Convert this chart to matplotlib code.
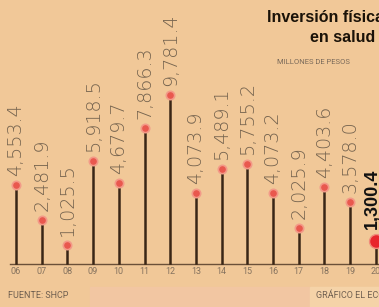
import matplotlib
matplotlib.use("Agg")
import matplotlib.pyplot as plt
import numpy as np

years = ["06", "07", "08", "09", "10", "11", "12", "13", "14", "15", "16", "17", "18", "19", "20"]
values = [4553.4, 2481.9, 1025.5, 5918.5, 4679.7, 7866.3, 9781.4, 4073.9, 5489.1,
          5755.2, 4073.2, 2025.9, 4403.6, 3578.0, 1300.4]
labels = ["4,553.4", "2,481.9", "1,025.5", "5,918.5", "4,679.7", "7,866.3", "9,781.4",
          "4,073.9", "5,489.1", "5,755.2", "4,073.2", "2,025.9", "4,403.6", "3,578.0", "1,300.4"]

W, H = 379, 307
bg = "#F1C898"
stem_c = "#3a2616"
dot_c = "#E9584E"
txt_c = "#76644f"
thin = ["Roboto", "DejaVu Sans"]

fig = plt.figure(figsize=(W / 100, H / 100), dpi=100, facecolor=bg)
ax = fig.add_axes([0, 0, 1, 1])
ax.set_facecolor(bg)
ax.axis("off")

# pixel mapping: x index -> px, value -> px from top
x0, dx = 16, 25.7
base, scale = 263, 168 / 9781.4
ax.set_xlim(-x0 / dx, (W - x0) / dx)
ax.set_ylim(-(H - base) / scale, base / scale)
upp = 1 / scale  # value units per pixel

x = np.arange(len(years))

# lighter strips at the bottom
ax.axhspan(-(H - base) * upp, -(287 - base) * upp, xmin=90 / W, xmax=310 / W,
           color="#F2C6A2", zorder=0)
ax.axhspan(-(H - base) * upp, -(287 - base) * upp, xmin=310 / W, xmax=1,
           color="#F5D3A8", zorder=0)

# baseline
ax.plot([-6 / dx, x[-1] + 1], [-1 * upp, -1 * upp], color="#6b5038", lw=1.0, zorder=2)

for i, v in enumerate(values):
    last = i == len(values) - 1
    ax.plot([x[i], x[i]], [0, v], color=stem_c, lw=1.8, zorder=3)
    if last:
        ax.plot(x[i], v, "o", ms=10, color="#E8252C", mec="#F08A7A", mew=1, zorder=4)
        ax.text(x[i] - 0.13, v + 12 * upp, labels[i], rotation=90, ha="center", va="bottom",
                fontsize=13, fontweight="bold", color="#111111",
                family=["Liberation Sans", "DejaVu Sans"], zorder=5)
    else:
        ax.plot(x[i], v, "o", ms=6, color=dot_c, mec="#F39A88", mew=1.2, zorder=4)
        ax.text(x[i], v + 9 * upp, labels[i], rotation=90, ha="center", va="bottom",
                fontsize=13.8, fontweight="light", color=txt_c,
                family=["DejaVu Sans"], zorder=5)
    ax.text(x[i], -8 * upp, years[i], ha="center", va="center", fontsize=6.5,
            color="#86735f", family=thin)

# titles
fig.text(267 / W, 1 - 18 / H, "Inversión física", ha="left", va="center", fontsize=11.5,
         fontweight="bold", color="#1a1208", family=["Liberation Sans", "DejaVu Sans"])
fig.text(310 / W, 1 - 37 / H, "en salud", ha="left", va="center", fontsize=11.5,
         fontweight="bold", color="#1a1208", family=["Liberation Sans", "DejaVu Sans"])
fig.text(277 / W, 1 - 62 / H, "MILLONES DE PESOS", ha="left", va="center", fontsize=5.5,
         color="#7a6a5a", family=thin)

fig.text(8 / W, 1 - 296 / H, "FUENTE: SHCP", ha="left", va="center", fontsize=6.5,
         color="#6f5f50", family=thin)
fig.text(316 / W, 1 - 296 / H, "GRÁFICO EL ECONOMISTA", ha="left", va="center", fontsize=6.5,
         color="#6f5f50", family=thin)

fig.savefig("out.png", dpi=100, facecolor=bg)
